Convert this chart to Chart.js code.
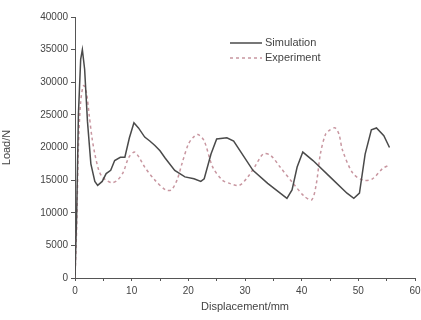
<!DOCTYPE html>
<html>
<head>
<meta charset="utf-8">
<script src="https://cdn.jsdelivr.net/npm/chart.js@4/dist/chart.umd.min.js"></script>
<style>
  html, body { margin: 0; padding: 0; background: #fff; }
  #wrap { width: 421px; height: 320px; }
</style>
</head>
<body>
<div id="wrap"><canvas id="canvas" width="421" height="320"></canvas></div>
<script>
// values
const simX = [0, 0.3, 0.6, 1.0, 1.3, 1.7, 2.2, 2.8, 3.5, 4.0, 4.8, 5.5, 6.3, 7.0, 8.0, 8.8, 9.6, 10.4, 11.2, 12.3, 13.2, 14.1, 15.0, 15.9, 17.6, 19.4, 21.0, 22.2, 22.8, 24.0, 25.0, 26.8, 28.0, 31.4, 34.0, 37.4, 38.3, 39.2, 40.2, 42.0, 45.0, 48.0, 49.2, 50.2, 51.2, 52.3, 53.2, 54.5, 55.5];
const simY = [0, 10000, 25000, 33500, 35000, 32000, 24000, 17500, 14800, 14200, 14800, 16000, 16500, 18000, 18500, 18500, 21500, 23800, 23000, 21600, 21000, 20300, 19500, 18400, 16500, 15500, 15200, 14800, 15200, 19000, 21300, 21500, 21000, 16500, 14500, 12200, 13500, 17000, 19300, 18000, 15500, 13000, 12200, 13000, 19000, 22700, 23000, 21800, 20000];

const expX = [0, 0.3, 0.6, 1.0, 1.5, 2.0, 2.5, 3.0, 3.5, 4.2, 4.8, 5.5, 6.5, 7.5, 8.5, 9.5, 10.5, 11.3, 12.3, 14.1, 16.0, 17.0, 18.0, 18.9, 20.0, 20.8, 21.7, 22.8, 24.3, 26.0, 27.3, 29.0, 30.5, 31.7, 33.2, 34.5, 36.2, 38.5, 40.5, 41.8, 42.6, 43.3, 44.2, 45.0, 45.9, 46.6, 47.2, 49.0, 50.8, 52.5, 54.3, 55.2];
const expY = [0, 8000, 20000, 27000, 29500, 28500, 25000, 21500, 19000, 16500, 15500, 15000, 14600, 15000, 16200, 18500, 19300, 18500, 17000, 15000, 13500, 13500, 15000, 17600, 20500, 21500, 22000, 21000, 17000, 15000, 14500, 14200, 15500, 17000, 19000, 18800, 17000, 14500, 12500, 12000, 14500, 19000, 22000, 22700, 23000, 22000, 19600, 16100, 15000, 15200, 16800, 17200];

const seriesNames = ['Simulation', 'Experiment'];
const xTicks = [0, 10, 20, 30, 40, 50, 60];
const xMinorTicks = [0, 5, 10, 15, 20, 25, 30, 35, 40, 45, 50, 55, 60];
const yTicks = [0, 5000, 10000, 15000, 20000, 25000, 30000, 35000, 40000];

const toPoints = (xs, ys) => xs.map((x, i) => ({ x: x, y: ys[i] }));

const simColor = '#4a4a4a';
const expColor = 'rgb(200,150,160)';
const textColor = '#444';
const fontFam = '"Liberation Sans", Arial, sans-serif';

// legend drawn inside the plot, top right
const insideLegend = {
    id: 'insideLegend',
    afterDraw(chart) {
        const ctx = chart.ctx;
        const items = [
            { name: seriesNames[0], color: simColor, dash: [], y: 43 },
            { name: seriesNames[1], color: expColor, dash: [3, 3], y: 58 }
        ];
        ctx.save();
        ctx.font = '11px ' + fontFam;
        ctx.textBaseline = 'middle';
        items.forEach((it) => {
            ctx.strokeStyle = it.color;
            ctx.lineWidth = 1.5;
            ctx.setLineDash(it.dash);
            ctx.beginPath();
            ctx.moveTo(230, it.y);
            ctx.lineTo(262, it.y);
            ctx.stroke();
            ctx.setLineDash([]);
            ctx.fillStyle = textColor;
            ctx.fillText(it.name, 265, it.y);
        });
        ctx.restore();
    }
};

function canvas() {
    const ctx = document.getElementById('canvas').getContext('2d');
    new Chart(ctx, {
        type: 'line',
        data: {
            datasets: [
                {
                    label: seriesNames[0],
                    data: toPoints(simX, simY),
                    borderColor: simColor,
                    borderWidth: 1.5,
                    pointRadius: 0,
                    tension: 0,
                    fill: false
                },
                {
                    label: seriesNames[1],
                    data: toPoints(expX, expY),
                    borderColor: expColor,
                    borderWidth: 1.5,
                    borderDash: [3, 3],
                    pointRadius: 0,
                    tension: 0.3,
                    fill: false
                }
            ]
        },
        options: {
            responsive: false,
            animation: false,
            layout: { padding: { top: 17, right: 6, left: 0, bottom: 6 } },
            plugins: {
                legend: { display: false },
                tooltip: { enabled: false }
            },
            scales: {
                x: {
                    type: 'linear',
                    min: 0,
                    max: 60,
                    afterBuildTicks: (s) => { s.ticks = xMinorTicks.map(v => ({ value: v })); },
                    ticks: {
                        color: textColor,
                        font: { size: 10, family: fontFam },
                        padding: 4,
                        maxRotation: 0,
                        callback: (v) => xTicks.includes(v) ? String(v) : ''
                    },
                    grid: { drawOnChartArea: false, tickLength: 3, color: '#555' },
                    border: { display: true, color: '#555', width: 1 },
                    title: {
                        display: true,
                        text: 'Displacement/mm',
                        color: textColor,
                        font: { size: 11, family: fontFam },
                        padding: { top: 1, bottom: 0 }
                    },
                    afterFit: (s) => { s.height = 36; s.paddingRight = 0; s.paddingLeft = 0; }
                },
                y: {
                    min: 0,
                    max: 40000,
                    afterBuildTicks: (s) => { s.ticks = yTicks.map(v => ({ value: v })); },
                    ticks: {
                        color: textColor,
                        font: { size: 10, family: fontFam },
                        padding: 3,
                        callback: (v) => String(v)
                    },
                    grid: { drawOnChartArea: false, tickLength: 4, color: '#555' },
                    border: { display: true, color: '#555', width: 1 },
                    title: {
                        display: true,
                        text: 'Load/N',
                        color: textColor,
                        font: { size: 11, family: fontFam },
                        padding: { top: 0, bottom: 6 }
                    },
                    afterFit: (s) => { s.width = 75; }
                }
            }
        },
        plugins: [insideLegend]
    });
}

canvas();
</script>
</body>
</html>
